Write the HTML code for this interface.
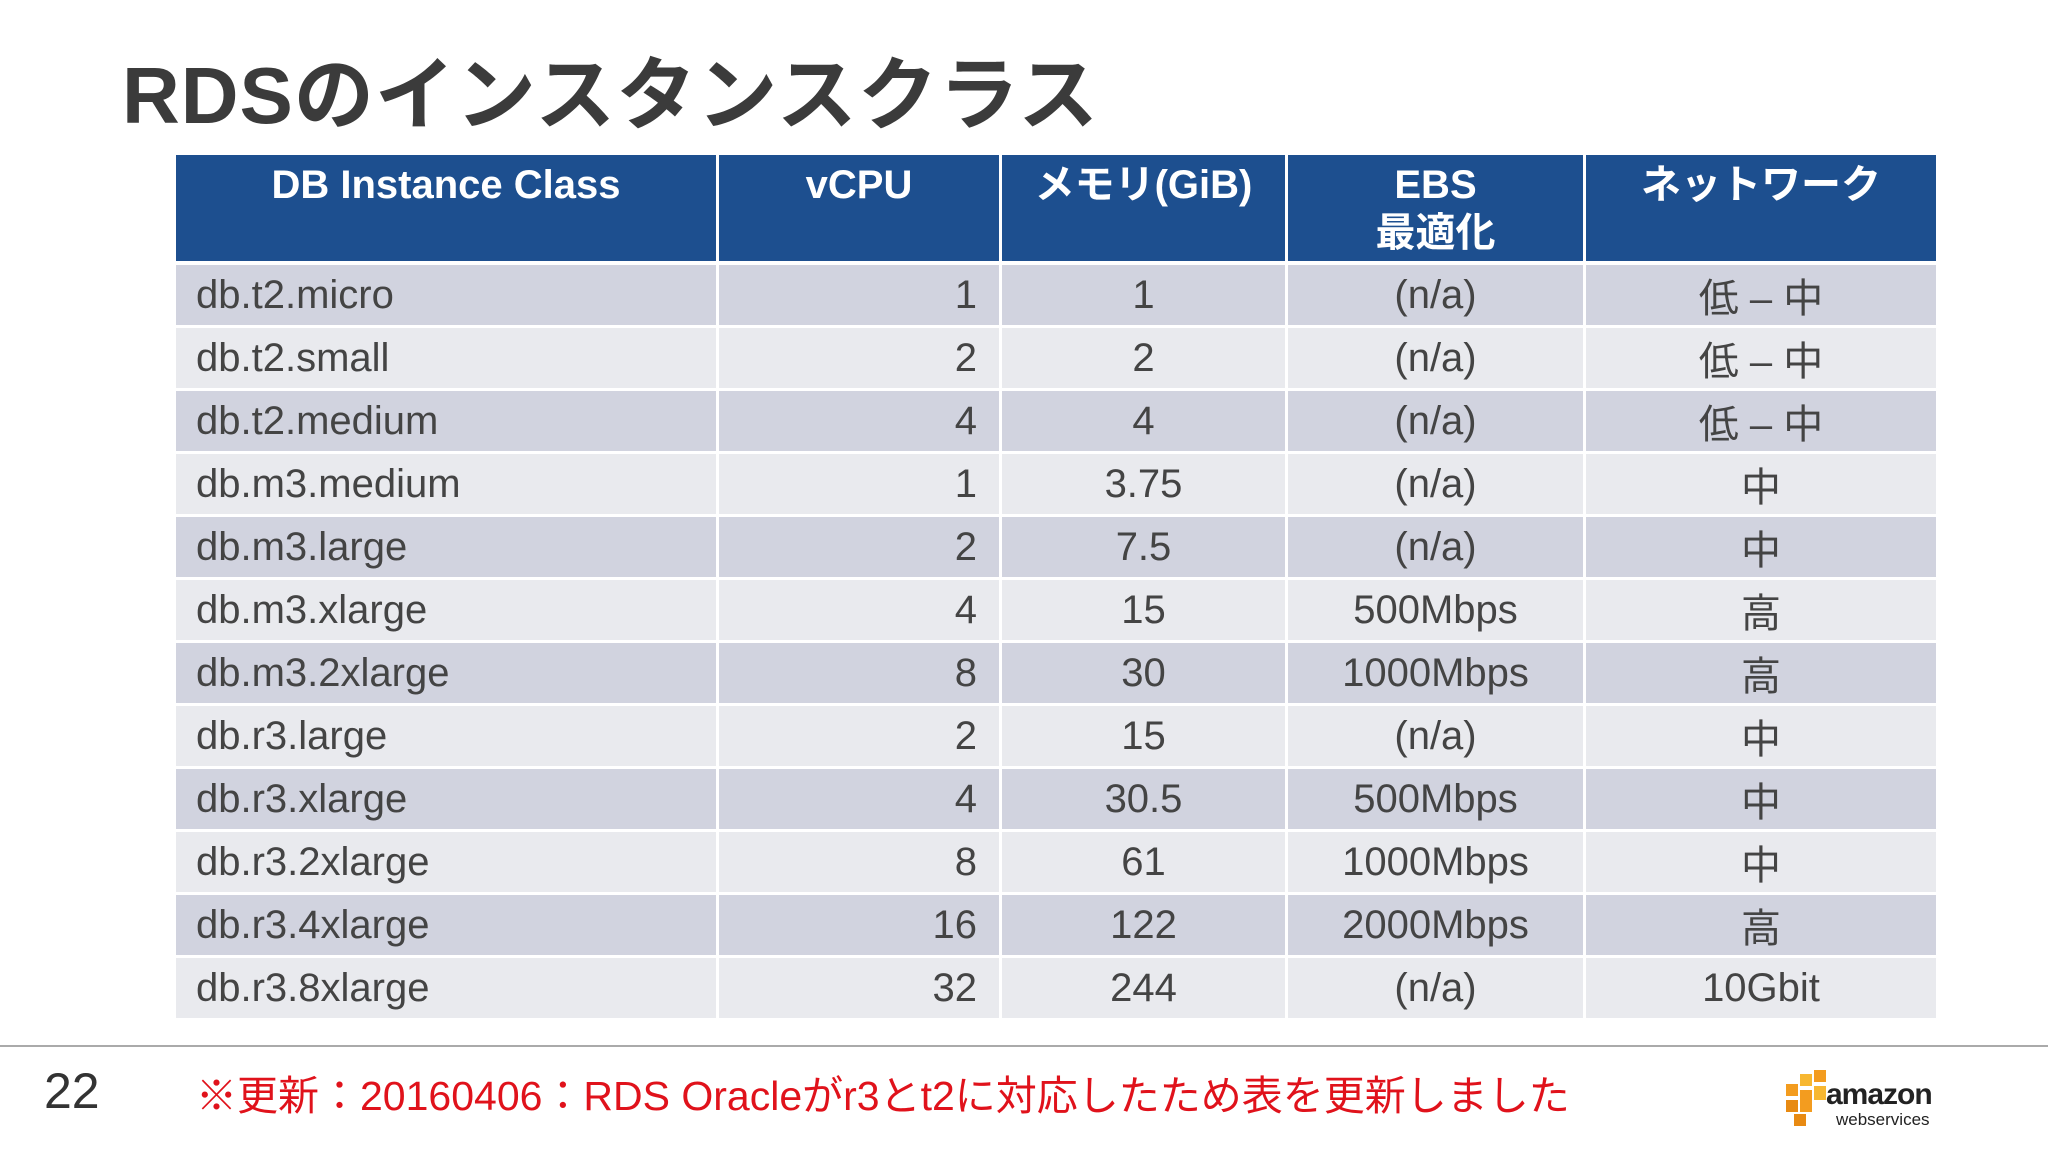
<!DOCTYPE html>
<html><head><meta charset="utf-8">
<style>
html,body{margin:0;padding:0;background:#fff;}
body{width:2048px;height:1152px;position:relative;overflow:hidden;font-family:"Liberation Sans","Noto Sans CJK JP",sans-serif;}
.title{position:absolute;left:122px;top:31px;font-size:80px;font-weight:bold;color:#3b3b3b;letter-spacing:1px;white-space:nowrap;}
.cell{position:absolute;box-sizing:border-box;font-size:40px;color:#444;display:flex;align-items:center;white-space:nowrap;}
.hd{position:absolute;box-sizing:border-box;background:#1d4f8f;color:#fff;font-weight:bold;font-size:40px;text-align:center;line-height:48px;padding-top:6px;}
.line{position:absolute;left:0;top:1045px;width:2048px;height:2px;background:#aaa;}
.pg{position:absolute;left:44px;top:1062px;font-size:50px;color:#333;}
.note{position:absolute;left:196px;top:1062px;font-size:41px;color:#e0121b;white-space:nowrap;}
</style></head>
<body>
<div class="title">RDSのインスタンスクラス</div>
<div id="tbl"></div>
<div class="line"></div>
<div class="pg">22</div>
<div class="note">※更新：20160406：RDS Oracleがr3とt2に対応したため表を更新しました</div>
<div style="position:absolute;left:1786px;top:1070px;width:160px;height:62px;">
  <div style="position:absolute;left:0;top:14px;width:12px;height:12px;background:#f39c1f"></div>
  <div style="position:absolute;left:14px;top:4px;width:12px;height:12px;background:#f7b731"></div>
  <div style="position:absolute;left:28px;top:0;width:12px;height:12px;background:#f39c1f"></div>
  <div style="position:absolute;left:0;top:30px;width:12px;height:12px;background:#e88a12"></div>
  <div style="position:absolute;left:14px;top:20px;width:12px;height:22px;background:#f39c1f"></div>
  <div style="position:absolute;left:28px;top:16px;width:12px;height:14px;background:#f7b731"></div>
  <div style="position:absolute;left:8px;top:44px;width:12px;height:12px;background:#e88a12"></div>
  <div style="position:absolute;left:40px;top:8px;font-size:30px;font-weight:bold;color:#222;letter-spacing:-1px;">amazon</div>
  <div style="position:absolute;left:50px;top:40px;font-size:17px;color:#222;">webservices</div>
</div>
<script>
const headers = ["DB Instance Class","vCPU","メモリ(GiB)","EBS<br>最適化","ネットワーク"];
const classes = ["db.t2.micro","db.t2.small","db.t2.medium","db.m3.medium","db.m3.large","db.m3.xlarge","db.m3.2xlarge","db.r3.large","db.r3.xlarge","db.r3.2xlarge","db.r3.4xlarge","db.r3.8xlarge"];
const vcpu = ["1","2","4","1","2","4","8","2","4","8","16","32"];
const memory = ["1","2","4","3.75","7.5","15","30","15","30.5","61","122","244"];
const ebs = ["(n/a)","(n/a)","(n/a)","(n/a)","(n/a)","500Mbps","1000Mbps","(n/a)","500Mbps","1000Mbps","2000Mbps","(n/a)"];
const network = ["低 – 中","低 – 中","低 – 中","中","中","高","高","中","中","中","高","10Gbit"];

const colX = [176,716,999,1285,1583,1936];
const headTop = 155, headBot = 261, rowTop = 265, rowPitch = 63, gap = 3;
const tbl = document.getElementById('tbl');
headers.forEach((h,i)=>{
  const d = document.createElement('div');
  
  
  d.className='hd';
  d.style.left=(colX[i]+(i?gap:0))+'px';
  d.style.top=headTop+'px';
  d.style.width=(colX[i+1]-colX[i]-(i?gap:0))+'px';
  d.style.height=(headBot-headTop)+'px';
  d.innerHTML=h;
  tbl.appendChild(d);
});
const cols=[classes,vcpu,memory,ebs,network];
const aligns=['flex-start','flex-end','center','center','center'];
classes.forEach((c,r)=>{
  const bg = r%2===0 ? '#d1d3df' : '#e9eaee';
  cols.forEach((col,i)=>{
    const d=document.createElement('div');
    
    
    d.className='cell';
    d.style.left=(colX[i]+(i?gap:0))+'px';
    d.style.top=(rowTop+r*rowPitch)+'px';
    d.style.width=(colX[i+1]-colX[i]-(i?gap:0))+'px';
    d.style.height=(rowPitch-gap)+'px';
    d.style.background=bg;
    d.style.justifyContent=aligns[i];
    d.style.paddingLeft=i===0?'20px':'0';
    d.style.paddingRight=i===1?'22px':'0';
    d.textContent=col[r];
    tbl.appendChild(d);
  });
});
</script>
</body></html>
